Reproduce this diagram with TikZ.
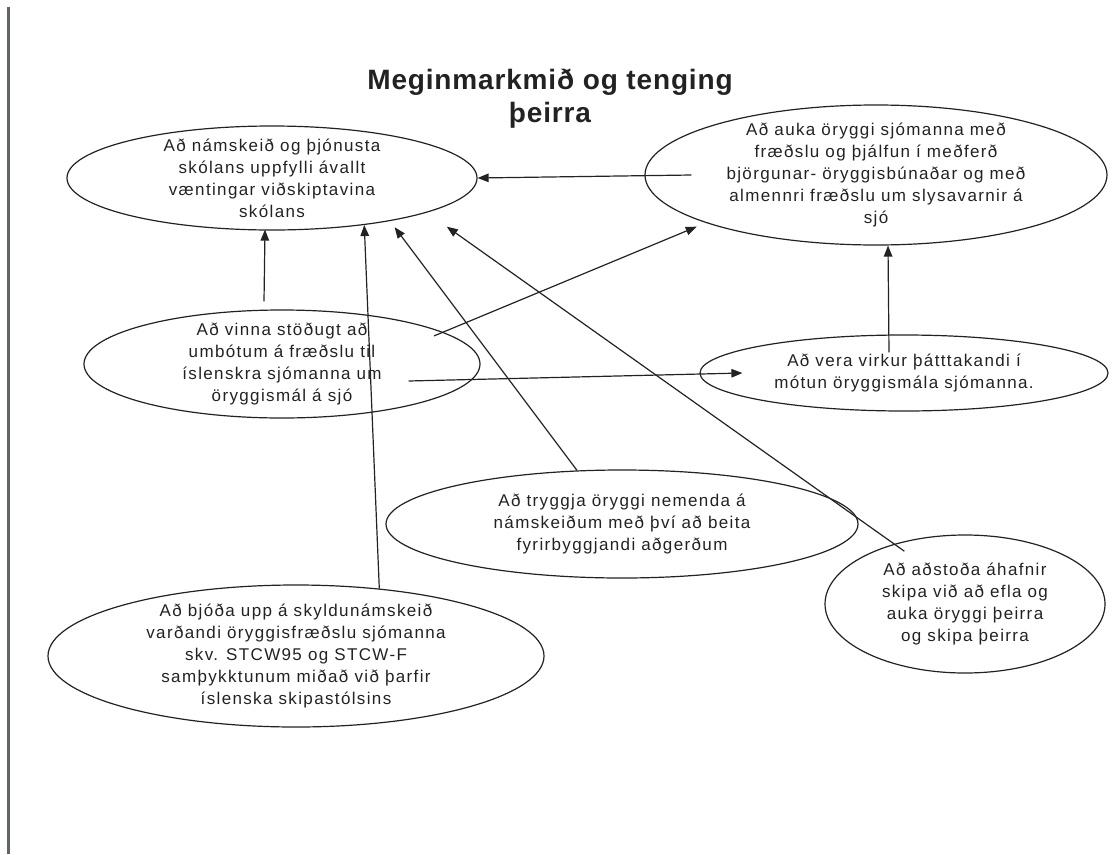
\documentclass[tikz,border=0pt]{standalone}
\usepackage{fontspec}
\setmainfont{Liberation Sans}
\newfontfamily\goalfont[LetterSpace=8]{Liberation Sans}
\newfontfamily\headfont[LetterSpace=3]{Liberation Sans}
\usetikzlibrary{shapes.geometric,arrows.meta}
\definecolor{barcol}{HTML}{5F6666}
\definecolor{inkcol}{HTML}{222222}
\begin{document}
\begin{tikzpicture}[x=1pt,y=-1pt,
    goal/.style={draw=inkcol,ellipse,line width=1.2pt,inner sep=0pt},
    goaltext/.style={align=center,text=inkcol,inner sep=0pt,font=\goalfont\fontsize{17}{22}\selectfont},
    link/.style={draw=inkcol,line width=1.2pt,-{Triangle[length=11pt,width=8.5pt]}}]
  \useasboundingbox (0,0) rectangle (1113,854);
  \draw[barcol,line width=3pt] (8,7) -- (8,854);
  \node[align=center,inner sep=0pt,text=inkcol,font=\headfont\bfseries\fontsize{28}{33}\selectfont] (title) at (550,99) {Meginmarkmið og tenging\\þeirra};
  \node[goal,minimum width=410pt,minimum height=104pt] (service) at (272,178) {};
  \node[goal,minimum width=462pt,minimum height=140pt] (safety) at (876,175) {};
  \node[goal,minimum width=396pt,minimum height=108pt] (improve) at (282,364) {};
  \node[goal,minimum width=408pt,minimum height=76pt] (policy) at (904,373) {};
  \node[goal,minimum width=472pt,minimum height=108pt] (students) at (622,524) {};
  \node[goal,minimum width=280pt,minimum height=138pt] (crews) at (965,604) {};
  \node[goal,minimum width=496pt,minimum height=142pt] (courses) at (296,656) {};
  \node[goaltext] (service-t) at (service) {Að námskeið og þjónusta\\skólans uppfylli ávallt\\væntingar viðskiptavina\\skólans};
  \node[goaltext] (safety-t) at (safety) {Að auka öryggi sjómanna með\\fræðslu og þjálfun í meðferð\\björgunar- öryggisbúnaðar og með\\almennri fræðslu um slysavarnir á\\sjó};
  \node[goaltext] (improve-t) at (improve) {Að vinna stöðugt að\\umbótum á fræðslu til\\íslenskra sjómanna um\\öryggismál á sjó};
  \node[goaltext] (policy-t) at (policy) {Að vera virkur þátttakandi í\\mótun öryggismála sjómanna.};
  \node[goaltext] (students-t) at (students) {Að tryggja öryggi nemenda á\\námskeiðum með því að beita\\fyrirbyggjandi aðgerðum};
  \node[goaltext] (crews-t) at (crews) {Að aðstoða áhafnir\\skipa við að efla og\\auka öryggi þeirra\\og skipa þeirra};
  \node[goaltext] (courses-t) at (courses) {Að bjóða upp á skyldunámskeið\\varðandi öryggisfræðslu sjómanna\\skv. STCW95 og STCW-F\\samþykktunum miðað við þarfir\\íslenska skipastólsins};
  \draw[link] ([xshift=47pt]safety.west) -- (service.east);
  \draw[link] ([xshift=-18pt,yshift=8pt]improve.north) -- ([xshift=-7pt,yshift=1pt]service.south);
  \draw[link] (courses.39) -- (service.-27);
  \draw[link] (students.130) -- ([yshift=-7pt]service.-19);
  \draw[link] ([yshift=-10pt]crews.134) -- ([yshift=-21pt]service.-9);
  \draw[link] ([yshift=-7pt]improve.13) -- ([yshift=-7pt]safety.194);
  \draw[link] ([xshift=-72pt,yshift=-17pt]improve.east) -- ([xshift=43pt]policy.west);
  \draw[link] ([xshift=-15pt,yshift=-18pt]policy.north) -- ([xshift=12pt]safety.south);
\end{tikzpicture}
\end{document}
